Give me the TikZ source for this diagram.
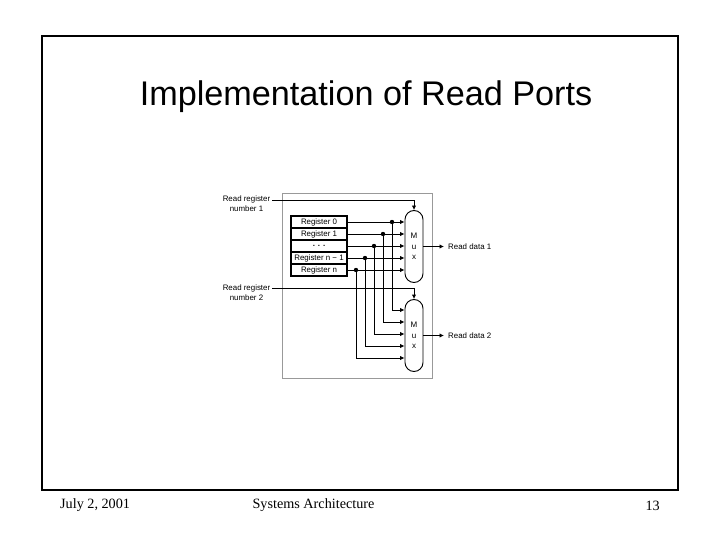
\documentclass[tikz,border=0pt]{standalone}
\usepackage{fontspec}
\setmainfont{Liberation Serif}
\newfontfamily\arialf{Liberation Sans}
\usetikzlibrary{arrows.meta}
\tikzset{
  wire/.style={draw=black,line width=0.9bp},
  arrowwire/.style={wire,-{Latex[length=4.5bp,width=4.5bp]}},
  regbox/.style={draw=black,line width=1.1bp,minimum width=56bp,minimum height=12bp,inner sep=0pt,font=\arialf\fontsize{7.9bp}{8bp}\selectfont},
  muxbox/.style={draw=black,line width=0.9bp,fill=white,rounded corners=9bp,minimum width=18bp,minimum height=72bp,inner sep=0pt,align=center,font=\arialf\fontsize{8bp}{10.5bp}\selectfont},
  lbl/.style={inner sep=0pt,align=center,font=\arialf\fontsize{7.9bp}{10bp}\selectfont},
  dotn/.style={circle,fill=black,inner sep=0pt,minimum size=4.4bp},
  foot/.style={inner sep=0pt,font=\fontsize{14.2bp}{16bp}\selectfont},
}
\begin{document}
\begin{tikzpicture}[x=1bp,y=-1bp]
\useasboundingbox (0,0) rectangle (720,540);
\fill[white] (0,0) rectangle (720,540);
\node[draw=black,line width=2bp,minimum width=636bp,minimum height=454bp,inner sep=0pt] (frame) at (360,263) {};
\node[inner sep=0pt,font=\arialf\fontsize{34.2bp}{36bp}\selectfont] (title) at (366,97) {Implementation of Read Ports};
\node[draw=black!40,line width=0.9bp,minimum width=150bp,minimum height=185bp,inner sep=0pt] (panel) at (357,285.5) {};
\node[regbox] (r0) at (319,222) {Register 0};
\node[regbox] (r1) at (319,234) {Register 1};
\node[regbox] (r2) at (319,246) {\textbf{. . .}};
\node[regbox] (r3) at (319,258) {Register n − 1};
\node[regbox] (r4) at (319,270) {Register n};
\node[muxbox] (m1) at (414,246.5) {M\\u\\x};
\node[muxbox] (m2) at (414,335.5) {M\\u\\x};
\node[lbl] (rr1) at (246.5,203.5) {Read register\\number 1};
\node[lbl] (rr2) at (246.5,292.5) {Read register\\number 2};
\node[lbl,anchor=west] (d1) at (448,246.5) {Read data 1};
\node[lbl,anchor=west] (d2) at (448,335.5) {Read data 2};
\coordinate (s1) at (272,200);
\coordinate (s2) at (272,288);
\draw[arrowwire] (s1) -| (m1.north);
\draw[arrowwire] (s2) -| (m2.north);
\draw[arrowwire] (m1.east) -- (d1.west -| 444,0);
\draw[arrowwire] (m2.east) -- (d2.west -| 444,0);
\foreach \r/\x/\yb in {r0/392/310,r1/383/322,r2/374/334,r3/365/346,r4/356/358}{
  \draw[arrowwire] (\r.east) -- (m1.west |- \r.east);
  \node[dotn] (dot\r) at (\x,0 |- \r.east) {};
  \coordinate (in\r) at (405,\yb);
  \draw[arrowwire] (dot\r.center) |- (m2.west |- in\r);
}
\node[foot,anchor=west] (fl) at (60,505.5) {July 2, 2001};
\node[foot] (fc) at (313.5,505.5) {Systems Architecture};
\node[foot,anchor=east] (fr) at (660,505.5) {13};
\end{tikzpicture}
\end{document}
